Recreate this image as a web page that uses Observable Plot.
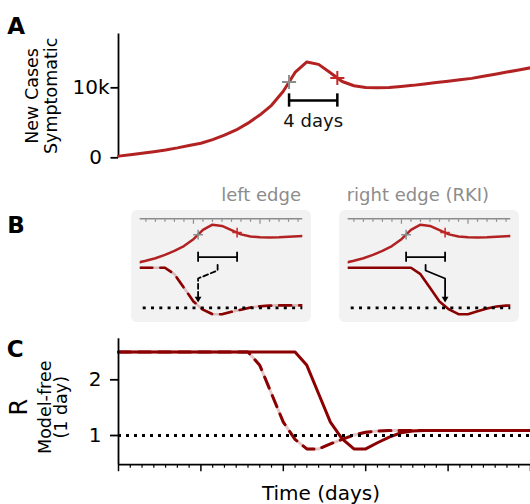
<!DOCTYPE html>
<html>
<head>
<meta charset="utf-8">
<script src="https://cdn.jsdelivr.net/npm/d3@7"></script>
<script src="https://cdn.jsdelivr.net/npm/@observablehq/plot@0.6"></script>
<style>
  html, body { margin: 0; padding: 0; background: #fff; }
  #root { position: relative; width: 530px; height: 504px; overflow: hidden; font-family: "DejaVu Sans", sans-serif; }
  .layer { position: absolute; }
  .layer svg { display: block; overflow: visible; max-width: none; }
  .box { position: absolute; background: #f2f2f2; border-radius: 6px; }
</style>
</head>
<body>
<div id="root"></div>
<script>
// ---------------- data ----------------
const caseDays = [0,1,2,3,4,5,6,7,8,9,10,11,12,13,14,15,16,17,18,19,20,21,22,23,24,25,26,27,28,29,30,31,32,33,34,35];
const caseValues = [240,430,640,870,1120,1420,1760,2080,2600,3250,3980,4950,6100,7500,9500,12200,13700,13350,12150,10900,10300,10050,10000,10050,10200,10350,10550,10750,10950,11150,11350,11650,11950,12250,12550,12860];

const rDays = [0,1,2,3,4,5,6,7,8,9,10,11,12,13,14,15,16,17,18,19,20,21,22,23,24,25,26,27,28,29,30,31,32,33,34,35];
const rRightEdge = [2.5,2.5,2.5,2.5,2.5,2.5,2.5,2.5,2.5,2.5,2.5,2.5,2.5,2.5,2.5,2.5,2.26,1.75,1.24,0.94,0.76,0.76,0.87,0.97,1.05,1.08,1.09,1.09,1.09,1.09,1.09,1.09,1.09,1.09,1.09,1.09];
const rLeftEdge  = [2.5,2.5,2.5,2.5,2.5,2.5,2.5,2.5,2.5,2.5,2.5,2.5,2.26,1.75,1.24,0.93,0.76,0.76,0.85,0.93,1.01,1.06,1.08,1.09,1.09,1.09,1.09,1.09,1.09,1.09,1.09,1.09,1.09,1.09,1.09,1.09];

const markerDays = [14.49, 18.59];
const markerValues = [10820, 11410];
const markerColors = ["#8c8c8c", "#c62828"];

const yTicksA = [0, 10000];
const yTickLabelsA = ["0", "10k"];
const yTicksC = [1, 2];
const yTickLabelsC = ["1", "2"];
const xMajorTicks = [0, 7, 14, 21, 28, 35];
const xMinorTicks = [1,2,3,4,5,6,8,9,10,11,12,13,15,16,17,18,19,20,22,23,24,25,26,27,29,30,31,32,33,34];
const insetMajorTicks = [14, 21];
const insetMinorTicks = [9,10,11,12,13,15,16,17,18,19,20,22,23,24,25];

const bracketLabel = "4 days";
const bracketLevelA = 8190, bracketCapA = 950;
const insetBracketLevel = 4280, insetBracketCap = 1450;
const connectorLevels = [2.61, 2.40, 2.10, 1.40];
const arrowLevel = 1.345;
const insetTitles = ["left edge", "right edge (RKI)"];

// ---------------- derived tables ----------------
const caseData = caseDays.map((d, i) => ({day: d, value: caseValues[i]}));
const rightData = rDays.map((d, i) => ({day: d, r: rRightEdge[i]}));
const leftData = rDays.map((d, i) => ({day: d, r: rLeftEdge[i]}));
const markers = markerDays.map((d, i) => ({day: d, value: markerValues[i], color: markerColors[i]}));
const midDay = (markerDays[0] + markerDays[1]) / 2;

const CASE_RED = "#b22222";
const R_RED = "#8b0000";
const style = {fontFamily: "DejaVu Sans", background: "transparent", overflow: "visible"};

const root = document.getElementById("root");
function place(node, left, top, cls = "layer") {
  const wrap = document.createElement("div");
  wrap.className = cls;
  wrap.style.left = left + "px";
  wrap.style.top = top + "px";
  wrap.appendChild(node);
  root.appendChild(wrap);
  return wrap;
}

// ---------------- Panel A ----------------
const plotA = Plot.plot({
  width: 530, height: 170,
  marginLeft: 118, marginRight: 0, marginTop: 33.5, marginBottom: 12.7,
  style,
  x: {domain: [0, 35], axis: null, label: null},
  y: {domain: [0, 17690], axis: null, label: null},
  marks: [
    Plot.ruleX([0], {stroke: "#000", strokeWidth: 1.8}),
    Plot.axisY([yTicksA[0]], {tickFormat: () => yTickLabelsA[0], tickSize: 7.5, tickPadding: 9, fontSize: 20, strokeWidth: 1.8, label: null}),
    Plot.axisY([yTicksA[1]], {tickFormat: () => yTickLabelsA[1], tickSize: 7.5, tickPadding: 1.5, fontSize: 20, strokeWidth: 1.8, label: null}),
    Plot.line(caseData, {x: "day", y: "value", stroke: CASE_RED, strokeWidth: 3}),
    Plot.dot(markers, {x: "day", y: "value", symbol: "plus", r: 4.6, stroke: "color", strokeWidth: 2}),
    Plot.link([0], {x1: markerDays[0], x2: markerDays[1], y1: bracketLevelA, y2: bracketLevelA, stroke: "#000", strokeWidth: 2.5}),
    Plot.ruleX(markerDays, {x: d => d, y1: bracketLevelA - bracketCapA, y2: bracketLevelA + bracketCapA, stroke: "#000", strokeWidth: 2.5}),
    Plot.text([bracketLabel], {x: midDay, y: bracketLevelA, dy: 21, text: d => d, fontSize: 18, fill: "#111", lineAnchor: "middle", textAnchor: "middle"}),
    Plot.text(["New Cases\nSymptomatic"], {frameAnchor: "left", rotate: -90, dx: -77.5, text: d => d, fontSize: 17.5, lineHeight: 1.08, textAnchor: "middle", lineAnchor: "middle", fill: "#000"})
  ]
});
place(plotA, 0, 0);

// ---------------- Panel B insets ----------------
const insetDomain = [8.4, 25.5];
function inset(left, rSeries, dashed, targetDay) {
  const box = document.createElement("div");
  box.className = "box";
  box.style.left = left + "px"; box.style.top = "210px";
  box.style.width = "180px"; box.style.height = "112px";
  root.appendChild(box);

  const rMarks = [];
  if (dashed) {
    rMarks.push(Plot.line(rSeries, {x: "day", y: "r", stroke: R_RED, strokeOpacity: 0.22, strokeWidth: 2.6, clip: true}));
    rMarks.push(Plot.line(rSeries, {x: "day", y: "r", stroke: R_RED, strokeWidth: 2.6, strokeDasharray: "12,8", clip: true}));
  } else {
    rMarks.push(Plot.line(rSeries, {x: "day", y: "r", stroke: R_RED, strokeWidth: 2.6, clip: true}));
  }
  const conn = [
    {day: midDay, r: connectorLevels[0]},
    {day: midDay, r: connectorLevels[1]},
    {day: targetDay, r: connectorLevels[2]},
    {day: targetDay, r: connectorLevels[3]}
  ];
  const rPlot = Plot.plot({
    width: 180, height: 112,
    marginLeft: 8.7, marginRight: 8.7, marginTop: 0, marginBottom: 0,
    style,
    x: {domain: insetDomain, axis: null, label: null},
    y: {domain: [0.449, 4.648], axis: null, label: null},
    marks: [
      ...rMarks,
      Plot.ruleY([1], {stroke: "#000", strokeWidth: 2.8, strokeDasharray: "3,5.3", insetLeft: 3}),
      Plot.line(conn, {x: "day", y: "r", stroke: "#000", strokeWidth: 1.8, strokeDasharray: dashed ? "5,3" : null}),
      Plot.dot([{day: targetDay, r: arrowLevel}], {x: "day", y: "r", symbol: "triangle", rotate: 180, r: 2.5, fill: "#000", stroke: null})
    ]
  });
  place(rPlot, left, 210);

  const cPlot = Plot.plot({
    width: 180, height: 112,
    marginLeft: 8.7, marginRight: 8.7, marginTop: 8.3, marginBottom: 50.5,
    style,
    x: {domain: insetDomain, axis: null, label: null},
    y: {domain: [0, 15409], axis: null, label: null},
    marks: [
      Plot.ruleY([15409], {stroke: "#8c8c8c", strokeWidth: 1.5}),
      Plot.axisX(insetMinorTicks, {anchor: "top", tickSize: -2.5, tickFormat: () => "", stroke: "#8c8c8c", strokeWidth: 1.2, label: null}),
      Plot.axisX(insetMajorTicks, {anchor: "top", tickSize: -4.5, tickFormat: () => "", stroke: "#8c8c8c", strokeWidth: 1.2, label: null}),
      Plot.line(caseData, {x: "day", y: "value", stroke: CASE_RED, strokeWidth: 2.5, clip: true}),
      Plot.dot(markers, {x: "day", y: "value", symbol: "plus", r: 3.2, stroke: "color", strokeWidth: 1.5}),
      Plot.link([0], {x1: markerDays[0], x2: markerDays[1], y1: insetBracketLevel, y2: insetBracketLevel, stroke: "#000", strokeWidth: 1.8}),
      Plot.ruleX(markerDays, {x: d => d, y1: insetBracketLevel - insetBracketCap, y2: insetBracketLevel + insetBracketCap, stroke: "#000", strokeWidth: 1.8})
    ]
  });
  place(cPlot, left, 210);
}
inset(131, leftData, true, markerDays[0]);
inset(339, rightData, false, markerDays[1]);

// ---------------- Panel C ----------------
const yDomainC = [0.476, 2.736];
const plotC = Plot.plot({
  width: 530, height: 174,
  marginLeft: 118, marginRight: 0, marginTop: 8.3, marginBottom: 39.8,
  style,
  x: {domain: [0, 35], axis: null, label: null},
  y: {domain: yDomainC, axis: null, label: null},
  marks: [
    Plot.line(rightData, {x: "day", y: "r", stroke: R_RED, strokeWidth: 3}),
    Plot.line(leftData, {x: "day", y: "r", stroke: R_RED, strokeOpacity: 0.22, strokeWidth: 3}),
    Plot.line(leftData, {x: "day", y: "r", stroke: R_RED, strokeWidth: 3, strokeDasharray: "12,8"}),
    Plot.ruleY([1], {stroke: "#000", strokeWidth: 3, strokeDasharray: "3,5"}),
    Plot.ruleX([0], {stroke: "#000", strokeWidth: 1.8}),
    Plot.ruleY([yDomainC[0]], {stroke: "#000", strokeWidth: 1.8}),
    Plot.axisY(yTicksC, {tickFormat: d => yTickLabelsC[yTicksC.indexOf(d)], tickSize: 8, tickPadding: 9, fontSize: 20, strokeWidth: 1.8, label: null}),
    Plot.axisX(xMajorTicks, {tickSize: 7, tickFormat: () => "", strokeWidth: 1.5, label: null}),
    Plot.axisX(xMinorTicks, {tickSize: 3.5, tickFormat: () => "", strokeWidth: 1.2, label: null}),
    Plot.text(["Time (days)"], {frameAnchor: "bottom", dy: 28.5, dx: -3.5, text: d => d, fontSize: 20, lineAnchor: "middle", textAnchor: "middle", fill: "#000"}),
    Plot.text(["R"], {frameAnchor: "left", rotate: -90, dx: -99, dy: 5.5, text: d => d, fontSize: 24, lineAnchor: "middle", textAnchor: "middle", fill: "#000"}),
    Plot.text(["Model-free"], {frameAnchor: "left", rotate: -90, dx: -73.6, dy: 5.5, text: d => d, fontSize: 17.5, lineAnchor: "middle", textAnchor: "middle", fill: "#000"}),
    Plot.text(["(1 day)"], {frameAnchor: "left", rotate: -90, dx: -57.6, dy: 5.5, text: d => d, fontSize: 17.5, lineAnchor: "middle", textAnchor: "middle", fill: "#000"})
  ]
});
place(plotC, 0, 330);

// ---------------- text overlay (panel letters, inset titles) ----------------
const overlay = d3.create("svg")
  .attr("width", 530).attr("height", 504)
  .style("position", "absolute").style("left", "0px").style("top", "0px")
  .style("pointer-events", "none")
  .attr("font-family", "DejaVu Sans");
const panelLetters = [{t: "A", x: 7.3, y: 34}, {t: "B", x: 7.3, y: 233}, {t: "C", x: 6.7, y: 357}];
overlay.selectAll("text.panel").data(panelLetters).join("text")
  .attr("x", d => d.x).attr("y", d => d.y)
  .attr("font-size", 23).attr("font-weight", "bold").attr("fill", "#000")
  .text(d => d.t);
overlay.append("text").attr("x", 301).attr("y", 200.5).attr("text-anchor", "end")
  .attr("font-size", 18).attr("fill", "#8c8c8c").text(insetTitles[0]);
overlay.append("text").attr("x", 346.7).attr("y", 200.5).attr("text-anchor", "start")
  .attr("font-size", 18).attr("fill", "#8c8c8c").text(insetTitles[1]);
root.appendChild(overlay.node());
</script>
</body>
</html>
